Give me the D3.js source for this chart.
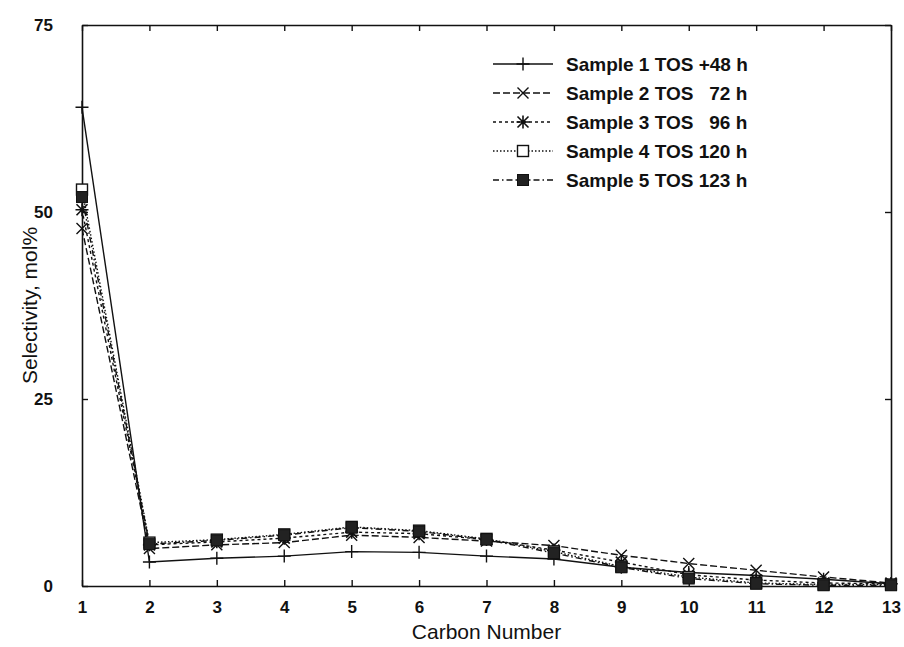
<!DOCTYPE html>
<html>
<head>
<meta charset="utf-8">
<script src="https://cdn.jsdelivr.net/npm/d3@7/dist/d3.min.js"></script>
<style>
body { margin: 0; background: #fff; }
svg { display: block; }
text { font-family: "Liberation Sans", Arial, sans-serif; fill: #111; }
</style>
</head>
<body>
<svg id="chart" width="904" height="647"></svg>
<script>
const carbonNumbers = [1, 2, 3, 4, 5, 6, 7, 8, 9, 10, 11, 12, 13];
const sample1 = [64.0, 3.2, 3.7, 4.0, 4.6, 4.5, 4.0, 3.6, 2.5, 1.8, 1.4, 0.9, 0.3];
const sample2 = [47.8, 5.0, 5.5, 5.8, 6.8, 6.5, 6.0, 5.4, 4.1, 3.0, 2.1, 1.2, 0.4];
const sample3 = [50.3, 5.5, 5.9, 6.4, 7.2, 7.0, 6.2, 4.8, 3.2, 1.5, 0.8, 0.4, 0.3];
const sample4 = [53.0, 5.8, 6.2, 6.9, 7.9, 7.4, 6.3, 4.6, 2.6, 1.2, 0.4, 0.2, 0.2];
const sample5 = [52.0, 5.6, 6.1, 6.8, 7.8, 7.3, 6.2, 4.4, 2.5, 1.0, 0.3, 0.1, 0.1];
const seriesNames = ["Sample 1 TOS +48 h", "Sample 2 TOS \u00a0\u00a072 h", "Sample 3 TOS \u00a0\u00a096 h", "Sample 4 TOS 120 h", "Sample 5 TOS 123 h"];
const yTicks = [0, 25, 50, 75];
const xLabel = "Carbon Number";
const yLabel = "Selectivity, mol%";

const series = [sample1, sample2, sample3, sample4, sample5].map((vals, i) => ({
  name: seriesNames[i],
  values: vals.map((v, j) => ({ x: carbonNumbers[j], y: v }))
}));
const dashes = [null, "7,3", "3,3", "1.5,2", "6,3,1.5,3"];
const markers = ["plus", "cross", "star", "square", "filled"];

const svg = d3.select("#chart");
const m = { left: 82, right: 904 - 891, top: 25, bottom: 647 - 586 };
const W = 904 - m.left - m.right, H = 647 - m.top - m.bottom;
const x = d3.scaleLinear().domain([1, 13]).range([m.left, m.left + W]);
const y = d3.scaleLinear().domain([0, 75]).range([m.top + H, m.top]);

const g = svg.append("g");

const tickLen = 6;
const axBottom = g.append("g").attr("transform", `translate(0,${m.top + H})`)
  .call(d3.axisBottom(x).tickValues(carbonNumbers).tickFormat(d3.format("d")).tickSizeInner(-tickLen).tickSizeOuter(0).tickPadding(15));
const axTop = g.append("g").attr("transform", `translate(0,${m.top})`)
  .call(d3.axisTop(x).tickValues(carbonNumbers).tickFormat("").tickSizeInner(-tickLen).tickSizeOuter(0));
const axLeft = g.append("g").attr("transform", `translate(${m.left},0)`)
  .call(d3.axisLeft(y).tickValues(yTicks).tickFormat(d3.format("d")).tickSizeInner(-tickLen).tickSizeOuter(0).tickPadding(29));
const axRight = g.append("g").attr("transform", `translate(${m.left + W},0)`)
  .call(d3.axisRight(y).tickValues(yTicks).tickFormat("").tickSizeInner(-tickLen).tickSizeOuter(0));
[axBottom, axTop, axLeft, axRight].forEach(a => {
  a.selectAll(".domain").attr("stroke", "#111").attr("stroke-width", 1.6);
  a.selectAll(".tick line").attr("stroke", "#111").attr("stroke-width", 1.4);
  a.selectAll("text").attr("font-size", 17).attr("font-weight", "bold")
    .attr("font-family", '"Liberation Sans", Arial, sans-serif').attr("fill", "#111");
});

g.append("text").attr("x", m.left + W / 2).attr("y", 639).attr("text-anchor", "middle")
  .attr("font-size", 21).text(xLabel);
g.append("text").attr("transform", `translate(37,${m.top + H / 2}) rotate(-90)`)
  .attr("text-anchor", "middle").attr("font-size", 21).text(yLabel);

const line = d3.line().x(d => x(d.x)).y(d => y(d.y));

function drawMarker(sel, type, cx, cy) {
  const s = 5.5;
  if (type === "plus") {
    sel.append("path").attr("d", `M${cx - s - 1},${cy}H${cx + s + 1}M${cx},${cy - s - 1}V${cy + s + 1}`)
      .attr("stroke", "#111").attr("stroke-width", 1.4).attr("fill", "none");
  } else if (type === "cross") {
    sel.append("path").attr("d", `M${cx - s},${cy - s}L${cx + s},${cy + s}M${cx - s},${cy + s}L${cx + s},${cy - s}`)
      .attr("stroke", "#111").attr("stroke-width", 1.4).attr("fill", "none");
  } else if (type === "star") {
    sel.append("path").attr("d", `M${cx - s},${cy - s}L${cx + s},${cy + s}M${cx - s},${cy + s}L${cx + s},${cy - s}M${cx - s - 1},${cy}H${cx + s + 1}M${cx},${cy - s - 1}V${cy + s + 1}`)
      .attr("stroke", "#111").attr("stroke-width", 1.6).attr("fill", "none");
  } else if (type === "square") {
    sel.append("rect").attr("x", cx - s).attr("y", cy - s).attr("width", 2 * s).attr("height", 2 * s)
      .attr("stroke", "#111").attr("stroke-width", 1.4).attr("fill", "#fff");
  } else {
    sel.append("rect").attr("x", cx - s).attr("y", cy - s).attr("width", 2 * s).attr("height", 2 * s)
      .attr("stroke", "#111").attr("stroke-width", 1).attr("fill", "#222");
  }
}

const plot = g.append("g");
series.forEach((s, i) => {
  plot.append("path").datum(s.values).attr("d", line)
    .attr("fill", "none").attr("stroke", "#111").attr("stroke-width", 1.4)
    .attr("stroke-dasharray", dashes[i]);
});
series.forEach((s, i) => {
  const mg = plot.append("g");
  s.values.forEach(d => drawMarker(mg, markers[i], x(d.x), y(d.y)));
});

const leg = g.append("g");
const legX0 = 493, legX1 = 553, legText = 566, legY0 = 64, legDy = 29;
series.forEach((s, i) => {
  const yy = legY0 + i * legDy;
  leg.append("line").attr("x1", legX0).attr("x2", legX1).attr("y1", yy).attr("y2", yy)
    .attr("stroke", "#111").attr("stroke-width", 1.4).attr("stroke-dasharray", dashes[i]);
  drawMarker(leg, markers[i], (legX0 + legX1) / 2, yy);
  leg.append("text").attr("x", legText).attr("y", yy).attr("dy", "0.35em")
    .attr("font-size", 19).attr("font-weight", "bold").text(s.name);
});
</script>
</body>
</html>
